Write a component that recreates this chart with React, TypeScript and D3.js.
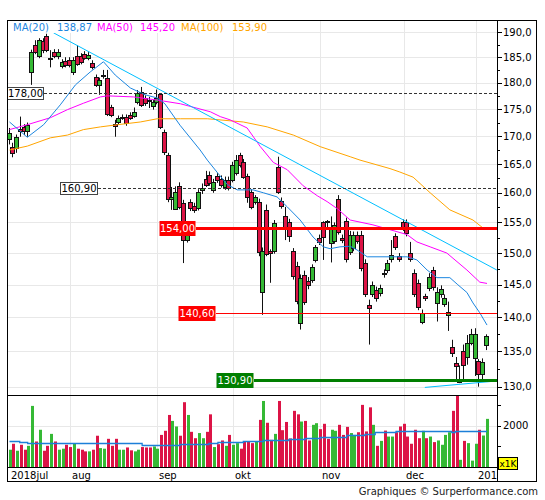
import React from "react";
import * as d3 from "d3";

// daily candles, 2018-07 .. 2019-01 (price in EUR)
const opens = [
  169.5, 168.0, 167.8, 171.4, 171.6, 171.0, 182.1, 187.4, 185.2, 188.2,
  189.3, 184.6, 186.0, 185.2, 183.3, 184.3, 184.5, 182.0, 185.2, 185.2,
  185.6, 184.9, 183.9, 181.1, 179.6, 181.3, 181.0, 175.4, 172.2, 172.6,
  173.4, 173.6, 173.9, 173.7, 176.3, 178.3, 177.1, 176.8, 175.6, 176.3,
  177.9, 170.8, 166.6, 158.9, 157.3, 161.2, 158.3, 152.1, 158.4, 157.8,
  157.4, 160.5, 162.4, 163.1, 160.5, 162.9, 162.4, 161.0, 162.2, 162.2,
  163.5, 166.6, 165.4, 162.9, 160.2, 158.5, 158.5, 143.9, 157.1, 150.3,
  150.3, 164.5, 158.6, 156.1, 155.1, 150.3, 148.0, 139.2, 146.5, 145.6,
  145.8, 148.9, 152.5, 155.0, 155.2, 151.6, 152.0, 159.0, 152.5, 155.3,
  150.2, 150.8, 153.0, 153.0, 148.4, 141.9, 143.6, 144.2, 143.7, 146.9,
  147.3, 149.1, 152.7, 149.5, 155.1, 155.0, 150.0, 146.9, 145.3, 139.3,
  143.2, 144.5, 147.3, 142.2, 143.5, 142.1, 140.4, 135.6, 133.4, 130.6,
  135.1, 134.2, 136.3, 134.1, 133.6, 131.8, 135.9,
];
const highs = [
  171.5, 168.8, 170.3, 173.6, 172.2, 172.5, 186.5, 188.4, 188.8, 188.8,
  189.7, 186.4, 186.6, 186.6, 184.6, 185.0, 185.0, 185.0, 187.4, 185.8,
  186.2, 186.0, 184.4, 181.6, 181.0, 182.5, 182.5, 175.8, 173.0, 173.8,
  174.0, 174.0, 174.4, 175.3, 178.6, 179.2, 177.6, 177.3, 176.7, 178.7,
  178.0, 171.2, 167.0, 161.0, 161.1, 161.8, 158.8, 155.0, 158.9, 158.3,
  160.6, 161.6, 163.8, 163.7, 162.4, 163.4, 163.0, 162.8, 162.8, 165.4,
  166.6, 167.0, 165.9, 163.3, 160.6, 159.6, 159.0, 150.9, 158.0, 150.6,
  155.4, 166.3, 159.2, 157.6, 155.6, 150.8, 148.6, 146.6, 147.2, 146.2,
  148.2, 151.3, 153.0, 155.2, 155.4, 156.0, 155.0, 159.6, 153.0, 155.8,
  153.6, 153.5, 153.5, 153.6, 149.0, 142.7, 145.5, 144.7, 145.0, 147.4,
  148.9, 152.1, 153.2, 150.0, 155.5, 155.5, 151.8, 147.4, 145.8, 141.2,
  143.6, 146.8, 147.8, 144.6, 144.9, 143.5, 142.4, 136.7, 134.2, 133.0,
  136.0, 137.4, 138.3, 138.4, 133.9, 134.0, 137.5,
];
const lows = [
  168.5, 166.2, 167.0, 169.9, 170.2, 169.9, 179.6, 185.6, 184.8, 185.8,
  186.0, 183.0, 184.8, 184.6, 182.8, 183.0, 183.0, 181.5, 183.3, 183.6,
  184.5, 184.4, 182.6, 179.2, 177.7, 180.8, 173.7, 173.5, 169.9, 172.2,
  173.0, 171.9, 173.0, 173.4, 175.9, 175.4, 175.6, 175.2, 174.9, 175.9,
  171.3, 166.6, 158.4, 157.1, 157.1, 157.2, 148.4, 151.7, 156.9, 156.6,
  157.0, 159.8, 161.0, 161.2, 160.0, 161.7, 160.9, 160.5, 160.4, 161.8,
  163.0, 164.4, 162.4, 158.3, 157.2, 158.0, 149.5, 140.4, 149.5, 145.3,
  149.9, 159.8, 157.3, 152.1, 151.8, 145.8, 142.0, 138.2, 141.9, 144.3,
  145.3, 148.5, 151.3, 148.9, 154.2, 148.5, 151.5, 153.0, 151.6, 148.5,
  149.7, 150.3, 151.5, 147.1, 143.1, 136.0, 143.1, 142.4, 143.2, 146.1,
  146.8, 148.5, 150.5, 148.6, 153.6, 152.7, 148.6, 143.1, 141.1, 139.0,
  142.5, 144.0, 144.1, 139.4, 143.0, 141.6, 138.0, 134.2, 131.0, 130.5,
  130.9, 133.1, 135.9, 131.5, 130.0, 131.0, 135.2,
];
const closes = [
  170.6, 167.0, 169.9, 171.0, 171.0, 172.1, 186.0, 186.0, 188.4, 186.4,
  186.4, 184.9, 185.2, 186.0, 184.1, 183.5, 183.5, 184.5, 183.7, 184.1,
  184.9, 185.4, 183.1, 179.6, 180.6, 181.5, 174.1, 173.9, 171.8, 173.4,
  173.6, 172.4, 173.4, 174.5, 178.1, 175.8, 176.1, 176.6, 176.3, 177.1,
  171.7, 167.1, 158.9, 159.3, 160.2, 157.6, 152.1, 154.6, 157.4, 157.1,
  160.2, 160.8, 161.4, 161.7, 161.9, 162.2, 161.4, 162.2, 160.9, 164.9,
  165.7, 164.9, 162.8, 159.3, 157.6, 159.2, 150.1, 150.3, 149.9, 150.0,
  154.9, 160.2, 157.8, 153.9, 152.7, 146.3, 142.5, 146.0, 142.4, 144.9,
  147.7, 150.9, 151.8, 152.6, 155.0, 154.3, 154.6, 153.5, 152.1, 149.0,
  153.0, 153.0, 152.0, 147.6, 143.6, 141.4, 145.0, 142.9, 144.5, 146.6,
  148.4, 149.7, 151.0, 149.1, 154.1, 153.2, 149.1, 143.6, 141.6, 140.7,
  143.0, 146.2, 144.6, 143.8, 144.4, 143.0, 140.9, 134.8, 132.9, 131.0,
  133.0, 136.2, 137.6, 137.5, 131.8, 133.5, 137.2,
];
// volume, thousands of shares
const volumes = [
  840, 1130, 790, 1080, 840, 1030, 2970, 1240, 1810, 790,
  1030, 1610, 1240, 840, 890, 1080, 970, 1160, 890, 840,
  760, 760, 840, 1520, 920, 890, 1370, 1030, 1370, 840,
  840, 950, 810, 760, 840, 970, 950, 950, 1000, 890,
  1560, 1760, 2530, 2240, 1970, 1520, 3150, 2530, 1710, 1400,
  1650, 1400, 1710, 2560, 970, 1110, 1290, 1030, 1560, 1080,
  1160, 890, 1240, 1240, 1160, 1240, 2290, 3210, 2150, 1320,
  1610, 3210, 1790, 2190, 1390, 2730, 2560, 2210, 2240, 1290,
  2050, 2130, 1840, 2100, 1370, 1810, 1760, 2050, 1560, 1950,
  1650, 1560, 1690, 3020, 1730, 2900, 2050, 1030, 1270, 1770,
  1480, 1480, 1690, 1970, 2100, 1480, 1130, 1810, 1400, 1760,
  1400, 1480, 1210, 1290, 1080, 1560, 1690, 2730, 3600, 350,
  1270, 1160, 310, 1130, 1810, 1530, 2340,
];

// moving averages read at candle positions
const ma20Idx = [0, 4.7, 9, 13.4, 17.4, 21.3, 24.8, 27.9, 31.9, 35.8, 39, 41, 45, 50.3, 52.2, 55.1, 57.5, 60.1, 64.3, 67, 70.6, 73.3, 76.7, 80.1, 82.8, 84.6, 87.2, 89.9, 91.7, 94.4, 100.4, 104.9, 107.5, 110.2, 112.8, 116.2, 118.3, 120.7, 122.3, 124.1, 126];
const ma20Val = [172.6, 169.8, 172.1, 175.8, 179.6, 182.1, 184.1, 181.5, 179.0, 177.7, 177.1, 176.0, 172.0, 167.5, 165.7, 163.3, 161.4, 160.5, 160.5, 160.0, 159.3, 157.6, 155.4, 152.6, 151.0, 150.7, 151.0, 151.1, 150.5, 149.4, 149.4, 149.4, 148.9, 147.3, 146.1, 146.1, 145.0, 143.8, 142.2, 140.7, 138.87];
const ma50Idx = [0, 4.7, 10.8, 15.3, 19.5, 24, 25.8, 32.7, 39, 45.1, 53, 55.6, 58.2, 62.7, 66.2, 69.6, 73.3, 77.5, 81.2, 83.8, 86.5, 89.9, 95.9, 100.4, 104.9, 107.5, 111, 115.4, 120.7, 124.1, 126];
const ma50Val = [171.2, 172.1, 173.4, 174.9, 176.1, 177.3, 177.5, 177.3, 176.7, 176.0, 174.5, 173.6, 173.0, 171.5, 168.1, 165.3, 164.0, 161.2, 159.5, 158.5, 157.3, 155.4, 154.6, 153.8, 153.0, 151.8, 151.0, 150.0, 147.3, 145.4, 145.2];
const ma100Idx = [0, 4.7, 10.8, 15.3, 19.5, 24, 28.5, 34.5, 39, 45.1, 52.2, 61.7, 68, 74.9, 82, 89.9, 92.5, 100.4, 103, 106.5, 111, 116.2, 122.3, 124.9, 126];
const ma100Val = [167.5, 168.2, 169.7, 170.2, 171.2, 171.7, 172.1, 172.6, 173.2, 173.2, 173.2, 172.6, 171.7, 170.2, 168.1, 166.3, 165.7, 164.2, 163.6, 162.7, 160.0, 157.1, 155.4, 154.1, 153.9];
const volMaIdx = [0, 2.7, 4.8, 31.5, 35, 39.8, 45, 52.6, 55, 61.7, 67, 73.7, 78, 82, 89, 93.8, 96.5, 102, 106.6, 116.7, 117.6, 126];
const volMaVal = [1270, 1210, 1160, 1160, 1060, 1060, 1110, 1160, 1210, 1240, 1300, 1350, 1400, 1480, 1550, 1610, 1710, 1760, 1730, 1690, 1740, 1740];

// trend lines (start/end index, value)
const trendDownIdx = [11.6, 128.6];
const trendDownVal = [189.9, 147.3];
const trendUpIdx = [109.6, 128.6];
const trendUpVal = [129.9, 130.8];

const legendNames = ["MA(20)", "MA(50)", "MA(100)"];
const legendValues = ["138,87", "145,20", "153,90"];

const levelValues = [178.0, 160.9, 154.0, 140.6, 130.9];
const levelLabels = ["178,00", "160,90", "154,00", "140,60", "130,90"];

const monthLabels = ["2018jul", "aug", "sep", "okt", "nov", "dec", "2019jan"];
const monthStart = [0, 16, 39, 59, 82, 104, 123];

const FONT = "'DejaVu Sans', Verdana, sans-serif";
const UP = "#35b935";
const DOWN = "#dc1446";

// label placement for the horizontal levels
const levelStyle = [
  { x0: 7, x1: 44, kind: "dash" },
  { x0: 60, x1: 98, kind: "dash" },
  { x0: 159, x1: 196, kind: "red3" },
  { x0: 178, x1: 216, kind: "red1" },
  { x0: 216, x1: 254, kind: "green3" },
];

export default function App() {
  const n = closes.length;
  const plot = { left: 7, right: 497, top: 20, bottom: 395 };
  const volBottom = 467;

  const x = d3.scaleLinear().domain([0, n - 1]).range([9.5, 487]);
  const y = d3.scaleLog().domain([130, 190]).range([386.7, 32.3]);
  const yv = d3.scaleLinear().domain([0, 3500]).range([volBottom, plot.bottom]);

  const pts = (a: number[], b: number[]) => a.map((v, k) => [v, b[k]] as [number, number]);
  const priceLine = d3
    .line<[number, number]>()
    .x((d) => x(d[0]))
    .y((d) => y(d[1]));
  const volLine = d3
    .line<[number, number]>()
    .x((d) => x(d[0]))
    .y((d) => Math.round(yv(d[1])) + 0.5)
    .curve(d3.curveStepAfter);

  const majorTicks = d3.range(130, 190.01, 5);
  const minorTicks = d3.range(132.5, 190, 5);
  const volTicks = [1000, 2000, 3000];
  const fmt = (v: number) => v.toFixed(1).replace(".", ",");
  const cx = (i: number) => Math.round(x(i));

  return (
    <svg
      width={545}
      height={500}
      style={{ position: "absolute", left: 0, top: 0, background: "#fff" }}
      fontFamily={FONT}
    >
      <defs>
        <clipPath id="pclip">
          <rect x={plot.left} y={plot.top} width={plot.right - plot.left} height={plot.bottom - plot.top} />
        </clipPath>
        <clipPath id="vclip">
          <rect x={plot.left} y={plot.bottom} width={plot.right - plot.left} height={volBottom - plot.bottom} />
        </clipPath>
        <clipPath id="xclip">
          <rect x={plot.left} y={volBottom} width={plot.right - plot.left} height={20} />
        </clipPath>
      </defs>

      {/* grid */}
      {majorTicks.map((t) => (
        <line key={"h" + t} x1={plot.left} x2={plot.right} y1={Math.round(y(t)) + 0.5} y2={Math.round(y(t)) + 0.5} stroke="#e8e8e8" />
      ))}
      <line x1={plot.left} x2={plot.right} y1={Math.round(yv(2000)) + 0.5} y2={Math.round(yv(2000)) + 0.5} stroke="#e8e8e8" />
      {monthStart.slice(1).map((m) => (
        <line key={"v" + m} x1={cx(m) + 0.5} x2={cx(m) + 0.5} y1={plot.top} y2={volBottom} stroke="#e8e8e8" />
      ))}

      {/* volume */}
      <g clipPath="url(#vclip)">
        {volumes.map((v, i) => (
          <rect
            key={"vb" + i}
            x={cx(i) - 1}
            y={yv(v)}
            width={3}
            height={volBottom - yv(v)}
            fill={closes[i] >= opens[i] ? UP : DOWN}
          />
        ))}
        <path d={volLine(pts(volMaIdx, volMaVal)) ?? ""} fill="none" stroke="#1c7fd8" strokeWidth={1.3} />
      </g>

      {/* price panel */}
      <g clipPath="url(#pclip)">
        {closes.map((c, i) => {
          const o = opens[i];
          const up = c >= o;
          const top = Math.round(y(Math.max(o, c)));
          const bot = Math.max(Math.round(y(Math.min(o, c))), top + 1);
          const xc = cx(i);
          return (
            <g key={"c" + i}>
              <line x1={xc - 0.5} x2={xc - 0.5} y1={y(highs[i])} y2={y(lows[i])} stroke="#111" strokeWidth={1} />
              <rect x={xc - 2.5} y={top + 0.5} width={4} height={bot - top} fill={up ? UP : DOWN} stroke="#111" strokeWidth={1} />
            </g>
          );
        })}

        <path d={priceLine(pts(ma100Idx, ma100Val)) ?? ""} fill="none" stroke="#ffa500" strokeWidth={1} />
        <path d={priceLine(pts(ma50Idx, ma50Val)) ?? ""} fill="none" stroke="#ff00ff" strokeWidth={1} />
        <path d={priceLine(pts(ma20Idx, ma20Val)) ?? ""} fill="none" stroke="#1c86e0" strokeWidth={1} />
        <path d={priceLine(pts(trendDownIdx, trendDownVal)) ?? ""} fill="none" stroke="#00bfff" strokeWidth={1} />
        <path d={priceLine(pts(trendUpIdx, trendUpVal)) ?? ""} fill="none" stroke="#00bfff" strokeWidth={1} />

        {levelValues.map((v, k) => {
          const s = levelStyle[k];
          const yy = Math.round(y(v)) + 0.5;
          if (s.kind === "dash")
            return (
              <line key={"l" + k} x1={s.x1} x2={plot.right} y1={yy} y2={yy} stroke="#333" strokeDasharray="3,2" />
            );
          const col = s.kind === "green3" ? "#007f00" : "#ff0000";
          const w = s.kind === "red1" ? 1 : 3;
          return <line key={"l" + k} x1={s.x1} x2={plot.right} y1={yy} y2={yy} stroke={col} strokeWidth={w} />;
        })}
        {levelValues.map((v, k) => {
          const s = levelStyle[k];
          const yy = Math.round(y(v));
          const boxed = s.kind === "dash";
          const col = s.kind === "green3" ? "#007f00" : "#ff0000";
          const h = boxed ? 12 : 15;
          return (
            <g key={"lb" + k}>
              <rect
                x={s.x0 + 0.5}
                y={yy - h / 2 + 0.5}
                width={s.x1 - s.x0 - 1}
                height={h}
                fill={boxed ? "#fff" : col}
                stroke={boxed ? "#444" : "none"}
              />
              <text
                x={(s.x0 + s.x1) / 2}
                y={yy + 0.5}
                dy="0.36em"
                textAnchor="middle"
                fontSize={10}
                fill={boxed ? "#000" : "#fff"}
              >
                {levelLabels[k]}
              </text>
            </g>
          );
        })}
      </g>

      {/* legend */}
      <rect x={8} y={21} width={259} height={12} fill="#fff" />
      {legendNames.map((nm, k) => {
        const col = ["#1c86e0", "#ff00ff", "#ffa500"][k];
        const xs = [[13, 57], [97, 140], [181, 232]][k];
        return (
          <g key={"lg" + k} fontSize={10} fill={col}>
            <text x={xs[0]} y={30.5}>{nm}</text>
            <text x={xs[1]} y={30.5}>{legendValues[k]}</text>
          </g>
        );
      })}

      {/* right price axis */}
      {majorTicks.map((t) => (
        <g key={"pt" + t}>
          <line x1={plot.right} x2={plot.right + 5} y1={Math.round(y(t)) + 0.5} y2={Math.round(y(t)) + 0.5} stroke="#000" />
          <text x={plot.right + 6} y={y(t)} dy="0.36em" fontSize={10} fill="#000">
            {fmt(t)}
          </text>
        </g>
      ))}
      {minorTicks.map((t) => (
        <line key={"mt" + t} x1={plot.right} x2={plot.right + 3} y1={Math.round(y(t)) + 0.5} y2={Math.round(y(t)) + 0.5} stroke="#000" />
      ))}

      {/* volume axis */}
      {volTicks.map((t) => (
        <line key={"vt" + t} x1={plot.right} x2={plot.right + 4} y1={Math.round(yv(t)) + 0.5} y2={Math.round(yv(t)) + 0.5} stroke="#000" />
      ))}
      <text x={plot.right + 6} y={yv(2000)} dy="0.36em" fontSize={10} fill="#000">
        2000
      </text>
      <rect x={498.5} y={457.5} width={19} height={12} fill="#ffff00" stroke="#000" />
      <text x={508} y={464} dy="0.36em" textAnchor="middle" fontSize={9} fill="#000">
        x1K
      </text>

      {/* month labels */}
      <g clipPath="url(#xclip)">
        {monthLabels.map((m, k) => (
          <text key={"m" + k} x={k === 0 ? 11 : cx(monthStart[k]) + 2} y={475} dy="0.36em" fontSize={10} fill="#000">
            {m}
          </text>
        ))}
      </g>

      {/* frames */}
      <rect x={7.5} y={20.5} width={529} height={461} fill="none" stroke="#000" />
      <line x1={plot.right + 0.5} x2={plot.right + 0.5} y1={20} y2={482} stroke="#000" />
      <line x1={7} x2={plot.right} y1={plot.bottom + 0.5} y2={plot.bottom + 0.5} stroke="#000" />
      <line x1={7} x2={plot.right} y1={volBottom + 0.5} y2={volBottom + 0.5} stroke="#000" />

      <text x={538} y={491} dy="0.36em" textAnchor="end" fontSize={10} fill="#222">
        Graphiques © Surperformance.com
      </text>
    </svg>
  );
}
